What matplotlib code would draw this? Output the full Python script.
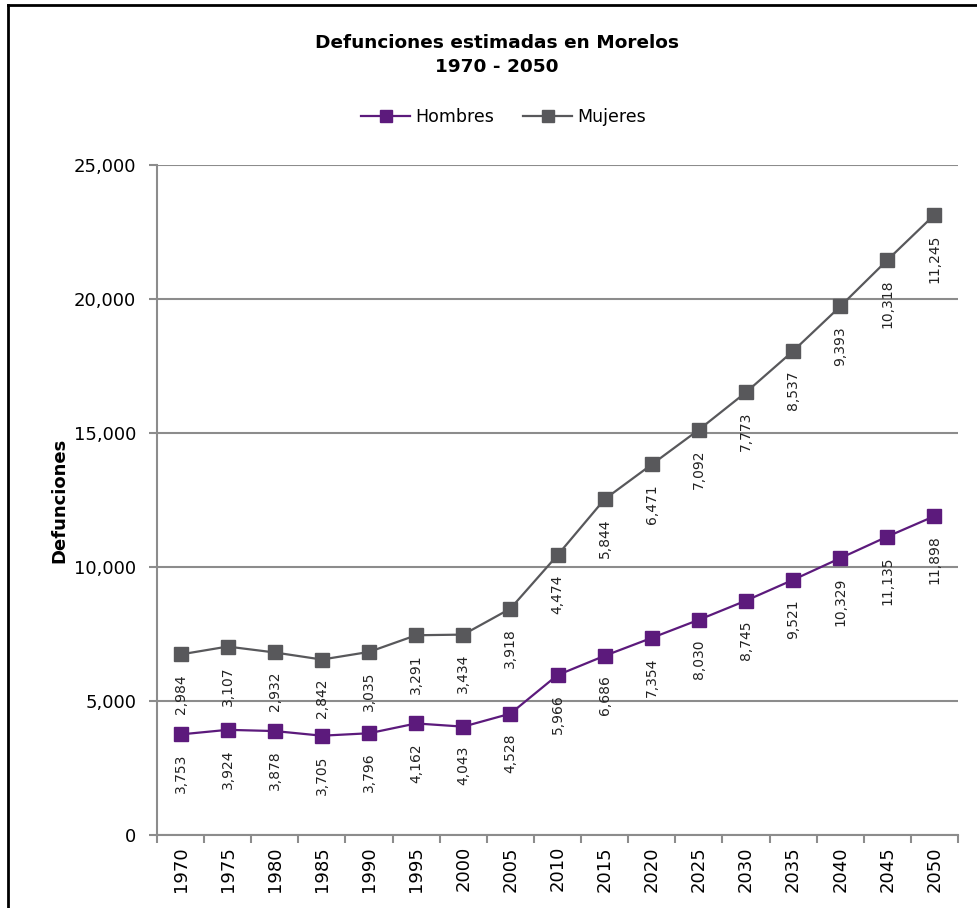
import numpy as np
import matplotlib.pyplot as plt
from matplotlib.lines import Line2D

plt.rcParams['font.family'] = ['DejaVu Sans']

anios = ['1970', '1975', '1980', '1985', '1990', '1995', '2000', '2005', '2010',
         '2015', '2020', '2025', '2030', '2035', '2040', '2045', '2050']
hombres = [3753, 3924, 3878, 3705, 3796, 4162, 4043, 4528, 5966,
           6686, 7354, 8030, 8745, 9521, 10329, 11135, 11898]
mujeres = [2984, 3107, 2932, 2842, 3035, 3291, 3434, 3918, 4474,
           5844, 6471, 7092, 7773, 8537, 9393, 10318, 11245]

col_h = '#5C1A7C'
col_m = '#58585B'
col_ax = '#8C8C8C'

x = np.arange(len(anios))
h = np.array(hombres)
m_acum = h + np.array(mujeres)  # lineas apiladas

fig = plt.figure(figsize=(9.78, 9.08), dpi=100)
ax = fig.add_axes([0.1605, 0.0804, 0.8191, 0.7379])

ax.plot(x, h, color=col_h, lw=1.6, marker='s', ms=10, label='Hombres', zorder=3)
ax.plot(x, m_acum, color=col_m, lw=1.6, marker='s', ms=10, label='Mujeres', zorder=3)

for xi, yi, v in zip(x, h, hombres):
    ax.annotate(f'{v:,}', (xi, yi), xytext=(0, -14), textcoords='offset points',
                rotation=90, ha='center', va='top', fontsize=10, color='#222222')
for xi, yi, v in zip(x, m_acum, mujeres):
    ax.annotate(f'{v:,}', (xi, yi), xytext=(0, -14), textcoords='offset points',
                rotation=90, ha='center', va='top', fontsize=10, color='#222222')

ax.set_xlim(-0.5, len(anios) - 0.5)
ax.set_ylim(0, 25000)
ax.set_yticks(np.arange(0, 25001, 5000))
ax.set_yticklabels([f'{v:,}' for v in range(0, 25001, 5000)], fontsize=13)
ax.set_xticks(np.arange(-0.5, len(anios), 1))
ax.set_xticklabels([])
ax.set_xticks(x, minor=True)
ax.set_xticklabels(anios, minor=True, rotation=90, fontsize=13)
ax.tick_params(axis='x', which='minor', length=0, pad=8)
ax.tick_params(axis='x', which='major', length=6, color=col_ax, width=1.5)
ax.tick_params(axis='y', length=6, color=col_ax, width=1.5, pad=9)
ax.grid(axis='y', color=col_ax, lw=1.5)
ax.set_axisbelow(True)
for s in ['top', 'right']:
    ax.spines[s].set_visible(False)
for s in ['left', 'bottom']:
    ax.spines[s].set_color(col_ax)
    ax.spines[s].set_linewidth(1.5)

ax.set_ylabel('Defunciones', fontsize=13, fontweight='bold', labelpad=4)

fig.text(0.508, 0.9395, 'Defunciones estimadas en Morelos\n1970 - 2050', ha='center',
         va='center', fontsize=13.3, fontweight='bold', linespacing=1.45)
fig.legend(loc='center', bbox_to_anchor=(0.515, 0.871), ncol=2, frameon=False,
           fontsize=12.5, handlelength=2.8, handletextpad=0.3, columnspacing=1.7,
           markerscale=0.8)

# marco del grafico (solo borde superior e izquierdo visibles)
fig.add_artist(Line2D([0.0085, 0.0085], [-0.01, 0.9945], transform=fig.transFigure,
                      color='black', lw=2))
fig.add_artist(Line2D([0.0085, 1.01], [0.9945, 0.9945], transform=fig.transFigure,
                      color='black', lw=2))

fig.savefig('out.png', dpi=100)
